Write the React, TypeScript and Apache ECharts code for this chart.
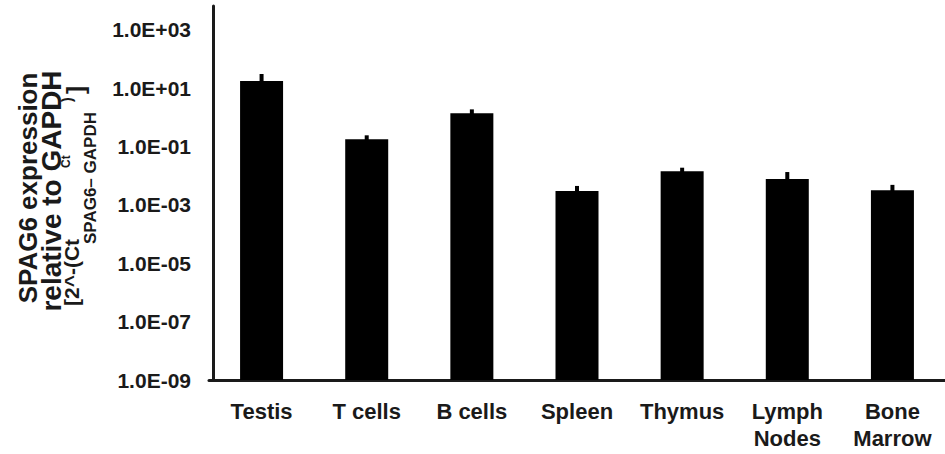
import React, { useEffect, useRef } from "react";
import * as echarts from "echarts";

const categories = ["Testis", "T cells", "B cells", "Spleen", "Thymus", "Lymph\nNodes", "Bone\nMarrow"];
const expression = [17.8, 0.178, 1.4, 0.003, 0.0145, 0.0078, 0.0032];
const errorUpper = [31, 0.245, 1.9, 0.0045, 0.019, 0.0135, 0.0049];
const yMin = 1e-9;
const yMax = 6650;

const FONT = "'Liberation Sans', Arial, sans-serif";

function formatTick(v: number): string {
  const l = Math.log10(v);
  const e = Math.round(l);
  if (Math.abs(l - e) > 1e-6) return "";
  if (Math.abs(e) % 2 !== 1) return "";
  const sign = e >= 0 ? "+" : "-";
  const a = Math.abs(e);
  return "1.0E" + sign + (a < 10 ? "0" + a : String(a));
}

function txt(text: string, x: number, y: number, size: number, align: string = "left") {
  return {
    type: "text",
    x,
    y,
    style: {
      text,
      fontSize: size,
      fontWeight: "bold",
      fontFamily: FONT,
      fill: "#1a1a1a",
      align,
      verticalAlign: "middle",
    },
  };
}

export default function App() {
  const ref = useRef<HTMLDivElement>(null);
  useEffect(() => {
    if (!ref.current) return;
    const chart = echarts.init(ref.current, null, { renderer: "svg" });
    const errData = categories.map((_, i) => [i, expression[i], errorUpper[i]]);
    chart.setOption({
      animation: false,
      backgroundColor: "#ffffff",
      grid: { left: 209, right: -5, top: 6, bottom: 74, containLabel: false },
      xAxis: {
        type: "category",
        data: categories,
        axisLine: { show: true, lineStyle: { color: "#1a1a1a", width: 3 } },
        axisTick: { show: false },
        axisLabel: {
          color: "#1a1a1a",
          fontFamily: FONT,
          fontWeight: "bold",
          fontSize: 22,
          lineHeight: 27,
          margin: 18,
          interval: 0,
        },
      },
      yAxis: {
        type: "log",
        logBase: 10,
        min: yMin,
        max: yMax,
        interval: 1,
        startValue: yMin,
        offset: -4,
        splitLine: { show: false },
        axisTick: { show: false },
        axisLine: { show: true, lineStyle: { color: "#1a1a1a", width: 3 } },
        axisLabel: {
          color: "#1a1a1a",
          fontFamily: FONT,
          fontWeight: "bold",
          fontSize: 21,
          margin: 22,
          showMaxLabel: false,
          formatter: (v: number) => formatTick(v),
        },
      },
      series: [
        {
          type: "bar",
          data: expression,
          barWidth: 43,
          itemStyle: { color: "#000000" },
        },
        {
          type: "custom",
          data: errData,
          z: 3,
          renderItem: (params: any, api: any) => {
            const i = api.value(0);
            const p0 = api.coord([i, api.value(1)]);
            const p1 = api.coord([i, api.value(2)]);
            return {
              type: "line",
              shape: { x1: p0[0], y1: p0[1] + 1, x2: p1[0], y2: p1[1] },
              style: { stroke: "#000000", lineWidth: 4 },
            };
          },
        },
      ],
      graphic: [
        { ...txt("SPAG6 expression", 28, 188, 26, "center"), rotation: Math.PI / 2 },
        { ...txt("relative to GAPDH", 51, 191, 28, "center"), rotation: Math.PI / 2 },
        {
          type: "group",
          x: 71,
          y: 306,
          rotation: Math.PI / 2,
          children: [
            txt("[2^-(Ct", 0, 0, 21),
            txt("SPAG6– GAPDH", 62, 19, 17),
            txt("Ct", 138, -5, 12),
            txt(")", 204, -4, 14),
            txt("]", 212, 4, 24),
          ],
        },
      ],
    });
    return () => chart.dispose();
  }, []);
  return (
    <div
      ref={ref}
      style={{ position: "fixed", left: 0, top: 0, width: 945, height: 454, background: "#fff" }}
    />
  );
}
